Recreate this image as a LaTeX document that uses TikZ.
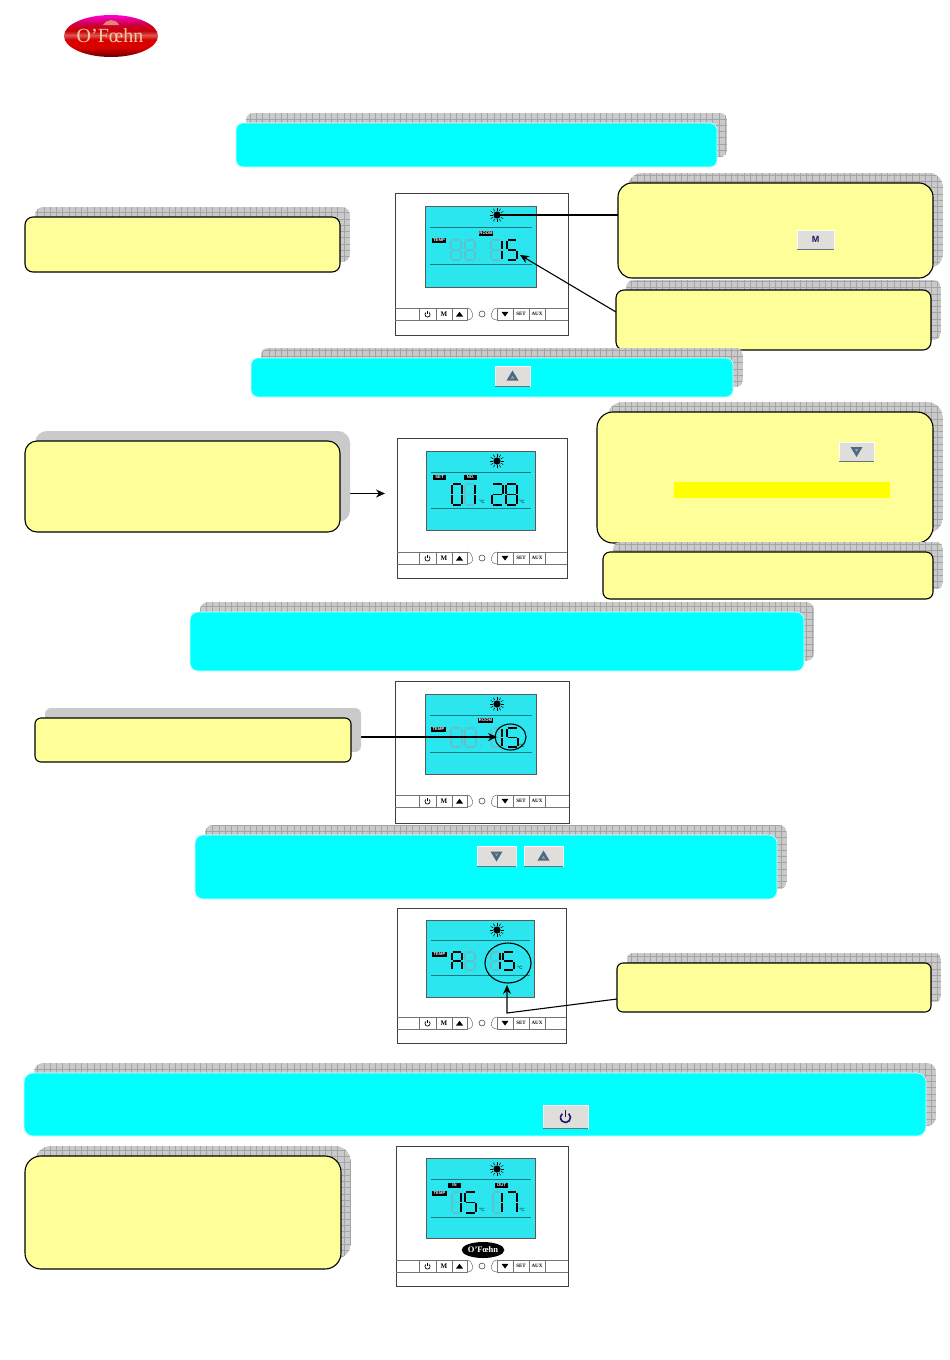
\documentclass[tikz,border=0pt]{standalone}
\usepackage{fontspec}
\setmainfont{Liberation Serif}
\newfontfamily\labelfont{Liberation Sans}
\usetikzlibrary{arrows.meta,shapes.geometric}
\definecolor{bluefill}{HTML}{00FFFF}
\definecolor{bluerim}{HTML}{D8FFFF}
\definecolor{yellowfill}{HTML}{FFFF99}
\definecolor{shadowfill}{HTML}{CACACA}
\definecolor{shadowgrid}{HTML}{A4A4A4}
\definecolor{lcdfill}{HTML}{2BE6EE}
\definecolor{lcdline}{HTML}{127A80}
\definecolor{ghost}{HTML}{62C0CA}
\definecolor{btnfill}{HTML}{E0DEDA}
\definecolor{btnedge}{HTML}{6E7078}
\definecolor{btntri}{HTML}{4E6A80}
\definecolor{btnnavy}{HTML}{1C1464}
\definecolor{hilite}{HTML}{FFFF00}
\definecolor{logotext}{HTML}{F0CDA0}
\definecolor{logocrown}{HTML}{E8A878}
\pgfdeclareverticalshading{logoshade}{100bp}{
  color(0bp)=(black!40!red!70!black);
  color(25bp)=(black!40!red!70!black);
  color(36bp)=(red!85!black);
  color(46bp)=(red!85!black);
  color(51bp)=(red!60!white!85!black);
  color(56bp)=(red!80!black);
  color(64bp)=(red!70!magenta!80!black);
  color(75bp)=(magenta!85!red);
  color(100bp)=(magenta!85!red)}
\tikzset{
  bluebox/.style={fill=bluefill,draw=bluerim,line width=.6pt},
  yellowbox/.style={fill=yellowfill,draw=black,line width=1.1pt},
  wire/.style={draw=black,line width=1.1pt},
  pointer/.style={draw=black,line width=1.1pt,-{Stealth[length=9pt,width=8pt]}},
  ringmark/.style={draw=black,line width=1.1pt},
  framebox/.style={draw=black!75,line width=1pt,fill=white,inner sep=0pt,outer sep=0pt},
  lcdbox/.style={draw=black!65,line width=.5pt,fill=lcdfill,inner sep=0pt,outer sep=0pt},
  keycell/.style={draw=black!55,line width=.5pt,fill=white,inner sep=0pt,outer sep=0pt,
    font=\bfseries\fontsize{7}{7}\selectfont},
  keyline/.style={draw=black!55,line width=.5pt},
  tagbox/.style={fill=black,text=white,inner sep=0pt,outer sep=0pt,
    font=\labelfont\bfseries\fontsize{4.2}{4.5}\selectfont},
  unitmark/.style={inner sep=0pt,font=\labelfont\fontsize{4.6}{5}\selectfont},
  pushbtn/.style={fill=btnfill,draw=white,line width=.8pt,inner sep=0pt,outer sep=0pt}
}
% seven segment pieces in a unit box
\newcommand\dsega{\draw (0.08,0)--(0.92,0);}
\newcommand\dsegb{\draw (1,0.06)--(1,0.46);}
\newcommand\dsegc{\draw (1,0.54)--(1,0.94);}
\newcommand\dsegd{\draw (0.08,1)--(0.92,1);}
\newcommand\dsege{\draw (0,0.54)--(0,0.94);}
\newcommand\dsegf{\draw (0,0.06)--(0,0.46);}
\newcommand\dsegg{\draw (0.08,0.5)--(0.92,0.5);}
\newcommand\sevenseg[6]{\begin{scope}[shift={(#1,#2)},xscale=#3,yscale=#4,line width=1.9pt,color=#5]
  \foreach \s in {#6}{\csname dseg\s\endcsname}\end{scope}}
\newcommand\shadowgridded[5]{\begin{scope}
  \clip[rounded corners=#5*1pt] (#1,#2) rectangle (#3,#4);
  \fill[shadowfill] (#1,#2) rectangle (#3,#4);
  \draw[shadowgrid,line width=.3pt,step=6.25pt] (#1,#4) grid (#3,#2);
  \end{scope}}
\newcommand\shadowplain[5]{\fill[shadowfill,rounded corners=#5*1pt] (#1,#2) rectangle (#3,#4);}
% name, x1,y1,x2,y2, radius, box style, shadow macro
\newcommand\panel[8]{
  \csname shadow#8\endcsname{#2+10}{#3-10}{#4+10}{#5-10}{#6}
  \node[#7,rounded corners=#6*1pt,anchor=north west,inner sep=0pt,outer sep=0pt,
    minimum width=\the\numexpr#4-#2\relax pt,minimum height=\the\numexpr#5-#3\relax pt] (#1) at (#2,#3) {};
}
\newcommand\btn[6]{
  \node[pushbtn,anchor=north west,minimum width=\the\numexpr#4-#2\relax pt,
    minimum height=\the\numexpr#5-#3\relax pt] (#1) at (#2,#3) {#6};
  \draw[btnedge,line width=.8pt] (#1.south west) -- (#1.south east);
}
\newcommand\triup[1]{\begin{scope}[shift={(#1.center)}]
  \fill[btntri] (-6,4.5)--(6,4.5)--(0,-5.5)--cycle;\fill[btntri!60!white] (-1.7,2.5)--(1.7,2.5)--(0,-.3)--cycle;\end{scope}}
\newcommand\tridown[1]{\begin{scope}[shift={(#1.center)}]
  \fill[btntri] (-6,-4.5)--(6,-4.5)--(0,5.5)--cycle;\fill[btntri!60!white] (-1.7,-2.5)--(1.7,-2.5)--(0,.3)--cycle;\end{scope}}
% small key row: name, frame x1, x2, top y, shift
\newcommand\keyrow[5]{
  \begin{scope}[shift={(#5,#4)}]
  \node[keycell,anchor=north west,minimum width=17pt,minimum height=12pt] (#1p) at (419,0) {};
  \node[keycell,anchor=north west,minimum width=16pt,minimum height=12pt] (#1m) at (436,0) {M};
  \node[keycell,anchor=north west,minimum width=15pt,minimum height=12pt] (#1u) at (452,0) {};
  \node[keycell,anchor=north west,minimum width=16pt,minimum height=12pt] (#1d) at (497,0) {};
  \node[keycell,anchor=north west,minimum width=16pt,minimum height=12pt,font=\bfseries\fontsize{5}{5}\selectfont] (#1s) at (513,0) {SET};
  \node[keycell,anchor=north west,minimum width=16pt,minimum height=12pt,font=\bfseries\fontsize{5}{5}\selectfont] (#1a) at (529,0) {AUX};
  \draw[keyline] (467,0) .. controls (473,0) and (476,12) .. (467,12);
  \draw[keyline] (497,0) .. controls (491,0) and (488,12) .. (497,12);
  \draw[black!70,line width=.6pt] (482,6) circle (3);
  \draw[black,line width=.7pt] (429.17,4.51) arc (310:590:2.6);
  \draw[black,line width=.7pt] (427.5,3)--(427.5,6);
  \fill[black] (456,8.5)--(463,8.5)--(459.5,3.8)--cycle;
  \fill[black] (501.5,3.8)--(508.5,3.8)--(505,8.5)--cycle;
  \end{scope}
  \draw[keyline] (#2,#4) -- (#1p.north west) (#2,#4+12) -- (#1p.south west);
  \draw[keyline] (#1a.north east) -- (#3,#4) (#1a.south east) -- (#3,#4+12);
}
% name, x1,y1,x2,y2, key y, key shift
\newcommand\devframe[7]{
  \node[framebox,anchor=north west,minimum width=\the\numexpr#4-#2\relax pt,
    minimum height=\the\numexpr#5-#3\relax pt] (#1) at (#2,#3) {};
  \keyrow{#1}{#2}{#4}{#6}{#7}
}
% name, x1,y1,x2,y2, line1, line2, sun x, sun y
\newcommand\lcd[9]{
  \node[lcdbox,anchor=north west,minimum width=\the\numexpr#4-#2\relax pt,
    minimum height=\the\numexpr#5-#3\relax pt] (#1lcd) at (#2,#3) {};
  \draw[lcdline,line width=.6pt] (#2+5,#6) -- (#4-4,#6) (#2+5,#7) -- (#4-4,#7);
  \coordinate (#1sun) at (#8,#9);
  \begin{scope}[shift={(#1sun)}]
    \fill[black] (0,0) circle (3.6);
    \foreach \a in {0,30,...,330}{\draw[black,line width=.5pt] (\a:4.3)--(\a:7.2);}
  \end{scope}
}
\newcommand\tag[6]{
  \node[tagbox,anchor=north west,minimum width=\the\numexpr#4-#2\relax pt,
    minimum height=\the\numexpr#5-#3\relax pt] (#1) at (#2,#3) {#6};
}
\begin{document}
\begin{tikzpicture}[x=1pt,y=-1pt]
\useasboundingbox (0,0) rectangle (950,1360);
\fill[white] (0,0) rectangle (950,1360);

% company logo
\node[ellipse,shading=logoshade,minimum width=94pt,minimum height=42pt,inner sep=0pt] (logo) at (111,36) {};
\fill[logocrown,opacity=.8] (103,25) .. controls (106,19) and (116,18) .. (119,25) -- cycle;
\node[text=logotext,inner sep=0pt,font=\fontsize{20}{22}\selectfont] (logotxt) at (110,36) {O'Fœhn};

% device 1
\devframe{da}{395}{193}{568}{335}{308}{0}
\lcd{da}{425}{206}{536}{287}{227}{264}{497}{215}
\tag{daroom}{479}{231}{493}{236}{ROOM}
\tag{datemp}{432}{238}{446}{243}{TEMP}
\sevenseg{451}{240}{10}{20}{ghost}{a,b,c,d,e,f,g}
\sevenseg{465}{240}{10}{20}{ghost}{a,b,c,d,e,f,g}
\fill[ghost] (480,259) circle (1.1);
\sevenseg{491}{240}{11}{20}{ghost}{a,b,c,d,e,f,g}
\sevenseg{491}{240}{11}{20}{black}{b,c}
\sevenseg{507}{240}{10}{20}{black}{a,f,g,c,d}

% device 2
\devframe{db}{397}{438}{567}{578}{552}{0}
\lcd{db}{426}{451}{535}{530}{472}{508}{497}{461}
\tag{dbset}{433}{475}{446}{480}{SET}
\tag{dbno}{464}{475}{477}{480}{NO.}
\sevenseg{452}{484}{10}{21}{black}{a,b,c,d,e,f}
\sevenseg{465}{484}{10}{21}{ghost}{a,b,c,d,e,f,g}
\sevenseg{465}{484}{10}{21}{black}{b,c}
\node[unitmark] (dbua) at (482,502) {°C};
\sevenseg{492}{484}{11}{21}{black}{a,b,g,e,d}
\sevenseg{506}{484}{11}{21}{black}{a,b,c,d,e,f,g}
\node[unitmark] (dbub) at (522,502) {°C};

% device 3
\devframe{dc}{395}{681}{569}{823}{795}{0}
\lcd{dc}{425}{694}{536}{774}{715}{752}{497}{704}
\tag{dcroom}{478}{718}{493}{723}{ROOM}
\tag{dctemp}{431}{727}{446}{732}{TEMP}
\sevenseg{451}{728}{11}{19}{ghost}{a,b,c,d,e,f,g}
\sevenseg{465}{728}{11}{19}{ghost}{a,b,c,d,e,f,g}
\fill[ghost] (481,746) circle (1.1);
\sevenseg{491}{728}{11}{19}{ghost}{a,b,c,d,e,f,g}
\sevenseg{491}{728}{11}{19}{black}{b,c}
\sevenseg{507}{728}{11}{19}{black}{a,f,g,c,d}
\node[unitmark] (dcua) at (522,746) {°C};
\node[ellipse,ringmark,minimum width=31pt,minimum height=26pt,inner sep=0pt] (dcring) at (510.5,737) {};

% device 4
\devframe{dd}{397}{908}{566}{1043}{1017}{0}
\lcd{dd}{426}{920}{534}{997}{940}{975}{497}{930}
\tag{ddtemp}{432}{952}{447}{957}{TEMP}
\sevenseg{452}{952}{10}{18}{black}{a,b,c,e,f,g}
\sevenseg{465}{952}{10}{18}{ghost}{a,b,c,d,e,f,g}
\sevenseg{491}{952}{9}{18}{ghost}{a,b,c,d,e,f,g}
\sevenseg{491}{952}{9}{18}{black}{b,c}
\sevenseg{503}{952}{11}{18}{black}{a,f,g,c,d}
\node[unitmark] (ddua) at (520,968) {°C};
\node[ellipse,ringmark,minimum width=46pt,minimum height=40pt,inner sep=0pt] (ddring) at (508,963) {};

% device 5
\devframe{de}{396}{1146}{568}{1286}{1260}{0}
\lcd{de}{426}{1158}{535}{1238}{1179}{1217}{497}{1169}
\tag{dein}{448}{1183}{461}{1188}{IN}
\tag{deout}{495}{1183}{508}{1188}{OUT}
\tag{detemp}{432}{1191}{447}{1196}{TEMP}
\sevenseg{452}{1192}{9}{21}{ghost}{a,b,c,d,e,f,g}
\sevenseg{452}{1192}{9}{21}{black}{b,c}
\sevenseg{465}{1192}{11}{21}{black}{a,f,g,c,d}
\node[unitmark] (deua) at (482,1210) {°C};
\sevenseg{493}{1192}{9}{21}{ghost}{a,b,c,d,e,f,g}
\sevenseg{493}{1192}{9}{21}{black}{b,c}
\sevenseg{507}{1192}{10}{21}{black}{a,b,c}
\node[unitmark] (deub) at (522,1210) {°C};
\node[ellipse,fill=black,text=white,minimum width=38pt,minimum height=16pt,inner sep=0pt,
  font=\bfseries\fontsize{8.5}{9}\selectfont] (delogo) at (483,1250) {O'Fœhn};

% connector ends
\coordinate (tgb) at (385,493.5);
\coordinate (tgg) at (497,737);
\coordinate (tgc) at (520,255);
\coordinate (sta) at (618,215);
\coordinate (stc) at (616,312);
\coordinate (sth) at (617,999);
\coordinate (bend) at (507,1013);
\coordinate (tgh) at (507,985);

% connectors (boxes and their shadows lie above the starts)
\draw[wire] (sta) -- (dasun);
\draw[pointer] (stc) -- (tgc);
\draw[pointer] (345,493.5) -- (tgb);
\draw[pointer] (355,737) -- (tgg);
\draw[pointer] (sth) -- (bend) -- (tgh);

% yellow and blue panels
\panel{ya}{25}{217}{340}{272}{8}{yellowbox}{gridded}
\panel{t1}{236}{123}{717}{167}{7}{bluebox}{gridded}
\panel{yb}{618}{183}{933}{278}{14}{yellowbox}{gridded}
\panel{yc}{616}{290}{931}{350}{8}{yellowbox}{gridded}
\panel{t2}{251}{358}{733}{397}{7}{bluebox}{gridded}
\panel{yd}{25}{441}{340}{532}{12}{yellowbox}{plain}
\panel{ye}{597}{412}{933}{543}{16}{yellowbox}{gridded}
\panel{yf}{603}{552}{933}{599}{7}{yellowbox}{gridded}
\panel{t3}{190}{612}{804}{671}{8}{bluebox}{gridded}
\panel{yg}{35}{718}{351}{762}{6}{yellowbox}{plain}
\panel{t4}{195}{835}{777}{899}{8}{bluebox}{gridded}
\panel{yh}{617}{963}{931}{1012}{6}{yellowbox}{gridded}
\panel{t5}{24}{1073}{926}{1136}{9}{bluebox}{gridded}
\panel{yi}{25}{1156}{341}{1269}{16}{yellowbox}{gridded}

% highlight strip and push buttons inside panels
\fill[hilite] (674,482) rectangle (890,498);
\btn{bm}{797}{230}{834}{249}{\labelfont\bfseries\fontsize{9}{9}\selectfont\color{btnnavy}M}
\btn{bu}{495}{366}{530}{386}{}
\triup{bu}
\btn{bd}{839}{442}{874}{461}{}
\tridown{bd}
\btn{bdd}{477}{846}{516}{866}{}
\tridown{bdd}
\btn{buu}{524}{846}{563}{866}{}
\triup{buu}
\btn{bp}{543}{1105}{588}{1128}{}
\begin{scope}[shift={(bp.center)}]
  \draw[btnnavy,line width=1.6pt] (3.2,-2.85) arc (310:590:5);
  \draw[btnnavy,line width=1.6pt] (0,-6.5)--(0,0.5);
\end{scope}
\end{tikzpicture}
\end{document}
